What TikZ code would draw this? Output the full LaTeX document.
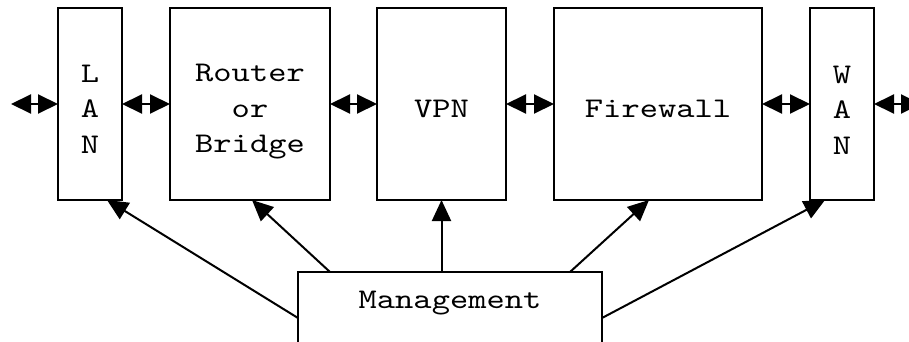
\documentclass[tikz,border=0pt]{standalone}
\usepackage{fontspec}
\newfontfamily\courfont[FakeStretch=1.22]{lmmono10-regular.otf}
\usetikzlibrary{arrows.meta,calc}
\begin{document}
\begin{tikzpicture}[x=1pt,y=1pt,
  box/.style={draw, line width=2pt, inner sep=0pt, outer sep=0pt, minimum height=192pt},
  txt/.style={inner sep=0pt, align=center, font=\courfont\fontsize{28.5}{35.5}\selectfont},
  link/.style={line width=2pt, {Triangle[length=20pt,width=19pt]}-{Triangle[length=20pt,width=19pt]}},
  feed/.style={line width=2pt, -{Triangle[length=21pt,width=19pt]}}]
\useasboundingbox (0,0) rectangle (909,341);
\clip (0,0) rectangle (909,341);
% boxes
\node[box, minimum width=64pt]  (lan)    at (90,237) {};
\node[box, minimum width=160pt] (router) at (250,237) {};
\node[box, minimum width=129pt] (vpn)    at (441.5,237) {};
\node[box, minimum width=208pt] (fw)     at (658,237) {};
\node[box, minimum width=64pt]  (wan)    at (842,237) {};
\node[box, minimum width=304pt, minimum height=100pt, anchor=north] (mgmt) at (450,69) {};
% texts
\node[txt] (lant) at ($(lan.center)+(0,-5)$) {L\\A\\N};
\node[txt] (routert) at ($(router.center)+(0,-8)$) {Router\\or\\Bridge};
\node[txt, anchor=base] (vpnt) at (441.5,224) {VPN};
\node[txt, anchor=base] (fwt) at (658,224) {Firewall};
\node[txt] (want) at ($(wan.center)+(0,-6)$) {W\\A\\N};
\node[txt, anchor=base] (mgmtt) at (450,33) {Management};
% free ends
\coordinate (lend) at (11,237);
\coordinate (rend) at (921,237);
% links
\draw[link] (lend) -- (lan.west);
\draw[link] (lan.east) -- (router.west);
\draw[link] (router.east) -- (vpn.west);
\draw[link] (vpn.east) -- (fw.west);
\draw[link] (fw.east) -- (wan.west);
\draw[link] (wan.east) -- (rend);
% management feeds
\draw[feed] ($(mgmt.west)+(0,4)$) -- ($(lan.south)+(17,0)$);
\draw[feed] ($(mgmt.north west)+(32,0)$) -- ($(router.south)+(2,0)$);
\draw[feed] (vpn.south |- mgmt.north) -- (vpn.south);
\draw[feed] ($(mgmt.north east)+(-32,0)$) -- ($(fw.south)+(-9,0)$);
\draw[feed] ($(mgmt.east)+(0,4)$) -- ($(wan.south)+(-17,0)$);
\end{tikzpicture}
\end{document}
